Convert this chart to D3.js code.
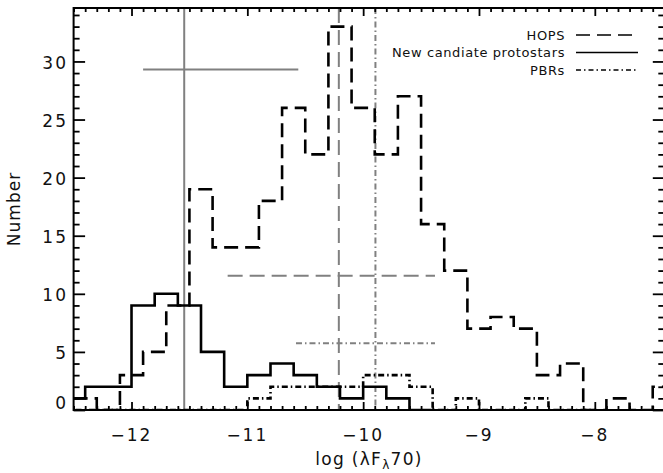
<!DOCTYPE html>
<html>
<head>
<meta charset="utf-8">
<script src="https://cdn.jsdelivr.net/npm/d3@7"></script>
<style>
  body { margin: 0; background: #fff; }
  svg { display: block; }
  text { font-family: "DejaVu Sans", sans-serif; fill: #111; }
</style>
</head>
<body>
<div id="chart"></div>
<script>
// Data, histogram bins are 0.2 dex wide
const binWidth = 0.2;

// HOPS protostars, bins start at -12.5
const hopsStart = -12.5;
const hopsCounts = [1, 0, 3, 5, 9, 19, 14, 14, 18, 26, 22, 33, 26, 22, 27, 16, 12, 7, 8, 7, 3, 4, 0, 1, 0, 2];

// New candidate protostars, bins start at -12.6
const newStart = -12.6;
const newCounts = [1, 2, 2, 9, 10, 9, 5, 2, 3, 4, 3, 2, 1, 2, 1, 0];

// PBRs, bins start at -12.6
const pbrStart = -12.6;
const pbrCounts = [0, 0, 0, 0, 0, 0, 0, 0, 1, 2, 2, 2, 2, 3, 3, 2, 0, 1, 0, 0, 1, 0, 0];

// median + spread markers (gray)
const markerNames = ['new', 'hops', 'pbr'];
const markerMedian = [-11.545, -10.21, -9.894];
const markerLevel = [29.3, 11.55, 5.74];
const markerLow = [-11.90, -11.17, -10.58];
const markerHigh = [-10.56, -9.38, -9.38];

const legendLabels = ['HOPS', 'New candiate protostars', 'PBRs'];

const xMajor = [-12, -11, -10, -9, -8];
const yMajor = [0, 5, 10, 15, 20, 25, 30];

// styles
const dashes = { hops: '14,7', new: null, pbr: '6,3,1.5,3' };
const grayDashes = { hops: '15,7', new: null, pbr: '6,3,1.5,3' };

const W = 663, H = 473;
const m = { left: 73.6, right: 664.3, top: 8, bottom: 410 };

let svg = d3.select('#chart').append('svg')
  .attr('width', W)
  .attr('height', H);

let x = d3.scaleLinear().domain([-12.5, -7.4]).range([m.left, m.right]);
let y = d3.scaleLinear().domain([0, 34.6]).range([m.bottom, m.top]);

svg.append('clipPath').attr('id', 'plotclip')
  .append('rect')
    .attr('x', m.left).attr('y', m.top)
    .attr('width', m.right - m.left).attr('height', m.bottom - m.top);

let plot = svg.append('g').attr('clip-path', 'url(#plotclip)');

// gray medians with error bars
markerNames.forEach((name, i) => {
  plot.append('line')
    .attr('x1', x(markerMedian[i])).attr('x2', x(markerMedian[i]))
    .attr('y1', m.top).attr('y2', m.bottom)
    .attr('stroke', '#808080').attr('stroke-width', 2)
    .attr('stroke-dasharray', grayDashes[name]);
  plot.append('line')
    .attr('x1', x(markerLow[i])).attr('x2', x(markerHigh[i]))
    .attr('y1', y(markerLevel[i])).attr('y2', y(markerLevel[i]))
    .attr('stroke', '#808080').attr('stroke-width', 2)
    .attr('stroke-dasharray', grayDashes[name]);
});

// histogram step lines
let stepPoints = (start, counts) => {
  let pts = counts.map((c, i) => [start + i * binWidth, c]);
  pts.push([start + counts.length * binWidth, counts[counts.length - 1]]);
  return pts;
}
let stepLine = d3.line()
  .x(d => x(d[0]))
  .y(d => y(d[1]))
  .curve(d3.curveStepAfter);

let hists = [
  { name: 'pbr', start: pbrStart, counts: pbrCounts },
  { name: 'new', start: newStart, counts: newCounts },
  { name: 'hops', start: hopsStart, counts: hopsCounts }
];
hists.forEach(h => {
  plot.append('path')
    .attr('d', stepLine(stepPoints(h.start, h.counts)))
    .attr('fill', 'none')
    .attr('stroke', '#000')
    .attr('stroke-width', 2.6)
    .attr('stroke-dasharray', dashes[h.name]);
});

// axes: ticks point inward on all four sides
let xMinor = d3.range(-125, -73).map(v => v / 10).filter(v => Math.abs(v - Math.round(v)) > 1e-6);
let yMinor = d3.range(0, 35).filter(v => v % 5 != 0);

let axisStyle = g => {
  g.selectAll('.domain').remove();
  g.selectAll('line').attr('stroke', '#000').attr('stroke-width', 1.8);
}

svg.append('g').attr('transform', `translate(0,${m.bottom})`)
  .call(d3.axisBottom(x).tickValues(xMajor).tickSize(-8).tickFormat(''))
  .call(axisStyle);
svg.append('g').attr('transform', `translate(0,${m.bottom})`)
  .call(d3.axisBottom(x).tickValues(xMinor).tickSize(-4).tickFormat(''))
  .call(axisStyle);
svg.append('g').attr('transform', `translate(0,${m.top})`)
  .call(d3.axisTop(x).tickValues(xMajor).tickSize(-8).tickFormat(''))
  .call(axisStyle);
svg.append('g').attr('transform', `translate(0,${m.top})`)
  .call(d3.axisTop(x).tickValues(xMinor).tickSize(-4).tickFormat(''))
  .call(axisStyle);
svg.append('g').attr('transform', `translate(${m.left},0)`)
  .call(d3.axisLeft(y).tickValues(yMajor).tickSize(-11.5).tickFormat(''))
  .call(axisStyle);
svg.append('g').attr('transform', `translate(${m.left},0)`)
  .call(d3.axisLeft(y).tickValues(yMinor).tickSize(-6).tickFormat(''))
  .call(axisStyle);
svg.append('g').attr('transform', `translate(${m.right},0)`)
  .call(d3.axisRight(y).tickValues(yMajor).tickSize(-11.5).tickFormat(''))
  .call(axisStyle);
svg.append('g').attr('transform', `translate(${m.right},0)`)
  .call(d3.axisRight(y).tickValues(yMinor).tickSize(-6).tickFormat(''))
  .call(axisStyle);

svg.append('rect')
  .attr('x', m.left).attr('y', m.top)
  .attr('width', m.right - m.left).attr('height', m.bottom - m.top)
  .attr('fill', 'none').attr('stroke', '#000').attr('stroke-width', 2);

// tick labels
svg.append('g').selectAll('text')
  .data(xMajor)
  .enter().append('text')
    .attr('x', d => x(d))
    .attr('y', 441)
    .attr('text-anchor', 'middle')
    .style('font-size', '17px')
    .style('letter-spacing', '2px')
    .text(d => '\u2212' + Math.abs(d));

svg.append('g').selectAll('text')
  .data(yMajor)
  .enter().append('text')
    .attr('x', 68)
    .attr('y', d => y(d) + (d == 0 ? -1 : 7.5))
    .attr('text-anchor', 'end')
    .style('font-size', '17px')
    .style('letter-spacing', '2px')
    .text(d => d);

// axis titles
let xt = svg.append('text')
  .attr('x', 369)
  .attr('y', 465)
  .attr('text-anchor', 'middle')
  .style('font-size', '17px')
  .style('letter-spacing', '1.3px');
xt.append('tspan').text('log (\u03bbF');
xt.append('tspan').attr('dy', 4).style('font-size', '12px').text('\u03bb');
xt.append('tspan').attr('dy', -4).text('70)');

svg.append('text')
  .attr('transform', `translate(20,${(m.top + m.bottom) / 2}) rotate(-90)`)
  .attr('text-anchor', 'middle')
  .style('font-size', '17px')
  .style('letter-spacing', '1px')
  .text('Number');

// legend
let legendDash = [dashes.hops, null, '5,3,1.5,3'];
legendLabels.forEach((lab, i) => {
  let ly = 35 + i * 17.5;
  svg.append('text')
    .attr('x', 565)
    .attr('y', ly + 4.5)
    .attr('text-anchor', 'end')
    .style('font-size', '13px')
    .style('letter-spacing', '0.6px')
    .text(lab);
  svg.append('line')
    .attr('x1', 576).attr('x2', 638)
    .attr('y1', ly).attr('y2', ly)
    .attr('stroke', '#000').attr('stroke-width', 1.3)
    .attr('stroke-dasharray', legendDash[i]);
});
</script>
</body>
</html>
